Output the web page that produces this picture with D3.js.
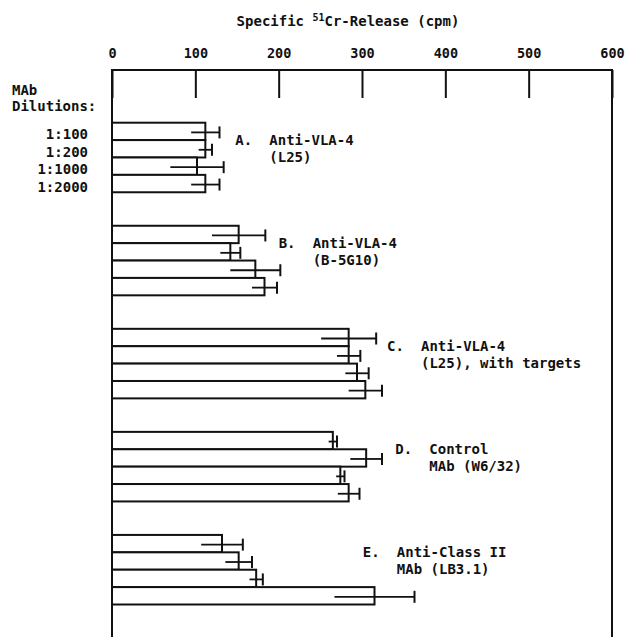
<!DOCTYPE html>
<html>
<head>
<meta charset="utf-8">
<script src="https://cdn.jsdelivr.net/npm/d3@7"></script>
<style>
  body { margin: 0; background: #fff; }
  text { font-family: "DejaVu Sans Mono", "Liberation Mono", monospace; font-weight: bold; fill: #111; }
</style>
</head>
<body>
<div id="chart"></div>
<script>
(function() {
  var width = 629, height = 637;

  // data
  var groups = ["A", "B", "C", "D", "E"];
  var dilutions = ["1:100", "1:200", "1:1000", "1:2000"];
  var releaseA = [112, 112, 102, 112], errA = [17, 8, 32, 17];
  var releaseB = [152, 142, 172, 183], errB = [32, 12, 30, 15];
  var releaseC = [284, 284, 294, 304], errC = [33, 14, 14, 20];
  var releaseD = [265, 305, 274, 284], errD = [5, 19, 5, 13];
  var releaseE = [132, 152, 173, 315], errE = [25, 16, 8, 48];
  var groupTitles = [
    ["A.", "Anti-VLA-4", "(L25)"],
    ["B.", "Anti-VLA-4", "(B-5G10)"],
    ["C.", "Anti-VLA-4", "(L25), with targets"],
    ["D.", "Control", "MAb (W6/32)"],
    ["E.", "Anti-Class II", "MAb (LB3.1)"]
  ];
  var xTicks = [0, 100, 200, 300, 400, 500, 600];

  // where each group's label sits, in cpm
  var labelAt = [148, 200, 330, 340, 301];

  var values = [releaseA, releaseB, releaseC, releaseD, releaseE];
  var errors = [errA, errB, errC, errD, errE];

  var datapoints = [];
  groups.forEach(function(g, i) {
    dilutions.forEach(function(dil, j) {
      datapoints.push({ group: g, dilution: dil, value: values[i][j], err: errors[i][j] });
    });
  });

  var svg = d3.select("#chart")
    .append("svg")
    .attr("width", width)
    .attr("height", height);

  var frameTop = 70;

  var xPositionScale = d3.scaleLinear().domain([0, 600]).range([112, 612]);

  var yGroupScale = d3.scaleBand().domain(groups).range([122.7, 604.5]).paddingInner(0.325);
  var yDilScale = d3.scaleBand().domain(dilutions).range([0, yGroupScale.bandwidth()]);

  function barY(d) { return yGroupScale(d.group) + yDilScale(d.dilution); }
  function barMid(d) { return barY(d) + yDilScale.bandwidth() / 2; }

  // title
  var title = svg.append("text")
    .attr("x", 348)
    .attr("y", 26)
    .attr("text-anchor", "middle")
    .style("font-size", "14px");
  title.append("tspan").text("Specific ");
  title.append("tspan").attr("dy", -5).style("font-size", "10px").text("51");
  title.append("tspan").attr("dy", 5).text("Cr-Release (cpm)");

  // axis with ticks pointing into the frame
  var xAxis = d3.axisTop(xPositionScale)
    .tickValues(xTicks)
    .tickSizeInner(-28)
    .tickSizeOuter(0)
    .tickPadding(12);
  var axisG = svg.append("g")
    .attr("class", "axis x-axis")
    .attr("transform", "translate(0," + frameTop + ")")
    .call(xAxis);
  axisG.select(".domain").remove();
  axisG.selectAll("line").attr("stroke", "#111").attr("stroke-width", 2);
  axisG.selectAll("text")
    .style("font-size", "13.5px")
    .style("font-family", "'DejaVu Sans Mono', monospace")
    .style("font-weight", "bold")
    .attr("fill", "#111");

  // frame: top, left, right (runs off the bottom)
  svg.append("path")
    .attr("d", "M" + xPositionScale(0) + "," + height + "V" + frameTop + "H" + xPositionScale(600) + "V" + height)
    .attr("fill", "none")
    .attr("stroke", "#111")
    .attr("stroke-width", 2);

  // left captions
  svg.append("text").attr("x", 12).attr("y", 95).style("font-size", "14px").text("MAb");
  svg.append("text").attr("x", 12).attr("y", 111).style("font-size", "14px").text("Dilutions:");

  svg.selectAll(".dil-label")
    .data(dilutions)
    .enter().append("text")
    .attr("class", "dil-label")
    .attr("x", 88)
    .attr("y", function(d) { return yGroupScale("A") + yDilScale(d) + yDilScale.bandwidth() / 2 + 8; })
    .attr("text-anchor", "end")
    .style("font-size", "14px")
    .text(function(d) { return d; });

  // bars
  svg.selectAll(".bar")
    .data(datapoints)
    .enter().append("rect")
    .attr("class", "bar")
    .attr("x", xPositionScale(0))
    .attr("y", barY)
    .attr("width", function(d) { return xPositionScale(d.value) - xPositionScale(0); })
    .attr("height", yDilScale.bandwidth())
    .attr("fill", "#fff")
    .attr("stroke", "#111")
    .attr("stroke-width", 2);

  // error bars, cap on the right end only
  svg.selectAll(".err")
    .data(datapoints)
    .enter().append("line")
    .attr("class", "err")
    .attr("x1", function(d) { return xPositionScale(d.value - d.err); })
    .attr("x2", function(d) { return xPositionScale(d.value + d.err); })
    .attr("y1", function(d) { return barMid(d) + 1; })
    .attr("y2", function(d) { return barMid(d) + 1; })
    .attr("stroke", "#111")
    .attr("stroke-width", 1.8);

  svg.selectAll(".cap")
    .data(datapoints)
    .enter().append("line")
    .attr("class", "cap")
    .attr("x1", function(d) { return xPositionScale(d.value + d.err); })
    .attr("x2", function(d) { return xPositionScale(d.value + d.err); })
    .attr("y1", function(d) { return barMid(d) - 5; })
    .attr("y2", function(d) { return barMid(d) + 7; })
    .attr("stroke", "#111")
    .attr("stroke-width", 2);

  // group labels
  groups.forEach(function(g, i) {
    var x0 = xPositionScale(labelAt[i]);
    var y1 = yGroupScale(g) + yDilScale.step() + 5;
    var lbl = svg.append("g").attr("class", "group-label");
    lbl.append("text").attr("x", x0).attr("y", y1).style("font-size", "14px").text(groupTitles[i][0]);
    lbl.append("text").attr("x", x0 + 34).attr("y", y1).style("font-size", "14px").text(groupTitles[i][1]);
    lbl.append("text").attr("x", x0 + 34).attr("y", y1 + 17).style("font-size", "14px").text(groupTitles[i][2]);
  });
})();
</script>
</body>
</html>
